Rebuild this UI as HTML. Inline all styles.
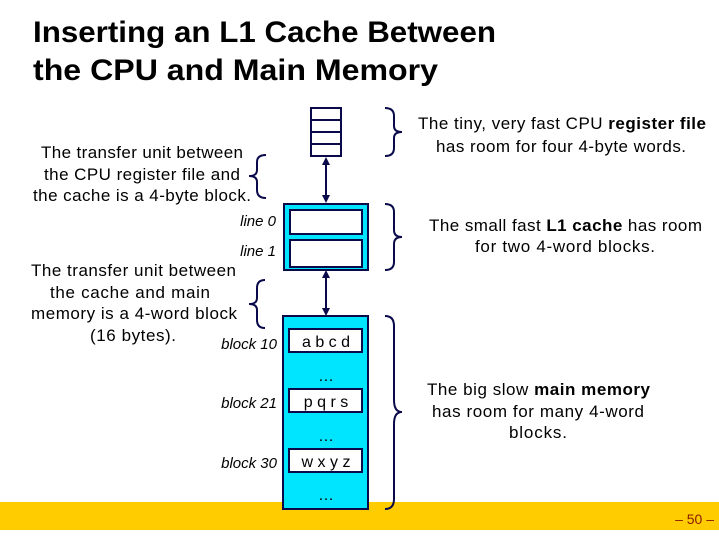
<!DOCTYPE html>
<html><head><meta charset="utf-8"><style>
body{margin:0;background:#fff}
svg{display:block}
text{font-family:"Liberation Sans",sans-serif}
</style></head><body>
<svg width="719" height="539" xmlns="http://www.w3.org/2000/svg">
<rect x="0" y="502" width="719" height="28" fill="#ffcc00"/>
<text x="714" y="524" font-size="14" fill="#8b1a00" text-anchor="end">– 50 –</text>

<text x="33" y="42" font-size="30" font-weight="bold" textLength="463" lengthAdjust="spacingAndGlyphs">Inserting an L1 Cache  Between</text>
<text x="33" y="80" font-size="30" font-weight="bold" textLength="405" lengthAdjust="spacingAndGlyphs">the CPU and Main Memory</text>

<!-- register file -->
<g fill="#fff" stroke="#0a0a4a" stroke-width="2">
<rect x="311" y="108" width="30" height="48"/>
<line x1="311" y1="120" x2="341" y2="120"/><line x1="311" y1="132" x2="341" y2="132"/><line x1="311" y1="144" x2="341" y2="144"/>
</g>
<g stroke="#0a0a4a" stroke-width="2"><line x1="326" y1="162" x2="326" y2="197"/><line x1="326" y1="276" x2="326" y2="310"/></g>
<g fill="#0a0a4a">
<polygon points="326,157 322,165 330,165"/><polygon points="326,203 322,195 330,195"/>
<polygon points="326,270 322,278 330,278"/><polygon points="326,316 322,308 330,308"/>
</g>
<rect x="284" y="204" width="84" height="66" fill="#00e5ff" stroke="#0a0a4a" stroke-width="2"/>
<rect x="290" y="210" width="72" height="24" fill="#fff" stroke="#0a0a4a" stroke-width="2"/>
<rect x="290" y="240" width="72" height="27" fill="#fff" stroke="#0a0a4a" stroke-width="2"/>
<rect x="283" y="316" width="85" height="193" fill="#00e5ff" stroke="#0a0a4a" stroke-width="2"/>
<g fill="#fff" stroke="#0a0a4a" stroke-width="2">
<rect x="289" y="329" width="73" height="23"/><rect x="289" y="389" width="73" height="23"/><rect x="289" y="449" width="73" height="23"/>
</g>
<g font-size="16" fill="#000" text-anchor="middle">
<text x="326" y="347">a b c d</text><text x="326" y="407">p q r s</text><text x="326" y="467">w x y z</text>
<text x="326" y="381">…</text><text x="326" y="441">…</text><text x="326" y="500">…</text>
</g>
<g font-size="15" font-style="italic" fill="#000" text-anchor="end">
<text x="276" y="226">line 0</text><text x="276" y="256">line 1</text>
<text x="277" y="349">block 10</text><text x="277" y="408">block 21</text><text x="277" y="468">block 30</text>
</g>
<g fill="none" stroke="#0a0a4a" stroke-width="2">
<path d="M385,108 Q394,108 394,116 L394,126 Q394,132 402,132 Q394,132 394,138 L394,148 Q394,156 385,156"/>
<path d="M385,204 Q394,204 394,212 L394,230 Q394,237 402,237 Q394,237 394,244 L394,262 Q394,270 385,270"/>
<path d="M385,316 Q394,316 394,326 L394,400 Q394,412 402,412 Q394,412 394,424 L394,499 Q394,509 385,509"/>
<path d="M266,155 Q257,155 257,162 L257,170 Q257,176 249,176 Q257,176 257,182 L257,190 Q257,198 266,198"/>
<path d="M265,280 Q257,280 257,288 L257,298 Q257,304 249,304 Q257,304 257,310 L257,320 Q257,328 265,328"/>
</g>
<g font-size="17" fill="#000" lengthAdjust="spacingAndGlyphs">
<text x="418" y="129" textLength="288">The tiny, very fast CPU <tspan font-weight="bold">register file</tspan></text>
<text x="436" y="152" textLength="250">has room for four 4-byte words.</text>
<text x="429" y="231" textLength="273">The small fast <tspan font-weight="bold">L1 cache</tspan> has room</text>
<text x="475" y="252" textLength="180">for two  4-word blocks.</text>
<text x="427" y="395" textLength="223">The big slow <tspan font-weight="bold">main memory</tspan></text>
<text x="432" y="417" textLength="212">has room for many 4-word</text>
<text x="509" y="438" textLength="58">blocks.</text>
<text x="41" y="158" textLength="202">The transfer unit between</text>
<text x="44" y="180" textLength="196">the CPU register file and</text>
<text x="33" y="201" textLength="218">the cache is a 4-byte block.</text>
<text x="31" y="276" textLength="205">The transfer unit between</text>
<text x="50" y="298" textLength="160">the cache and main</text>
<text x="31" y="319" textLength="206">memory is a 4-word block</text>
<text x="90" y="341" textLength="86">(16 bytes).</text>
</g>
</svg>
</body></html>
